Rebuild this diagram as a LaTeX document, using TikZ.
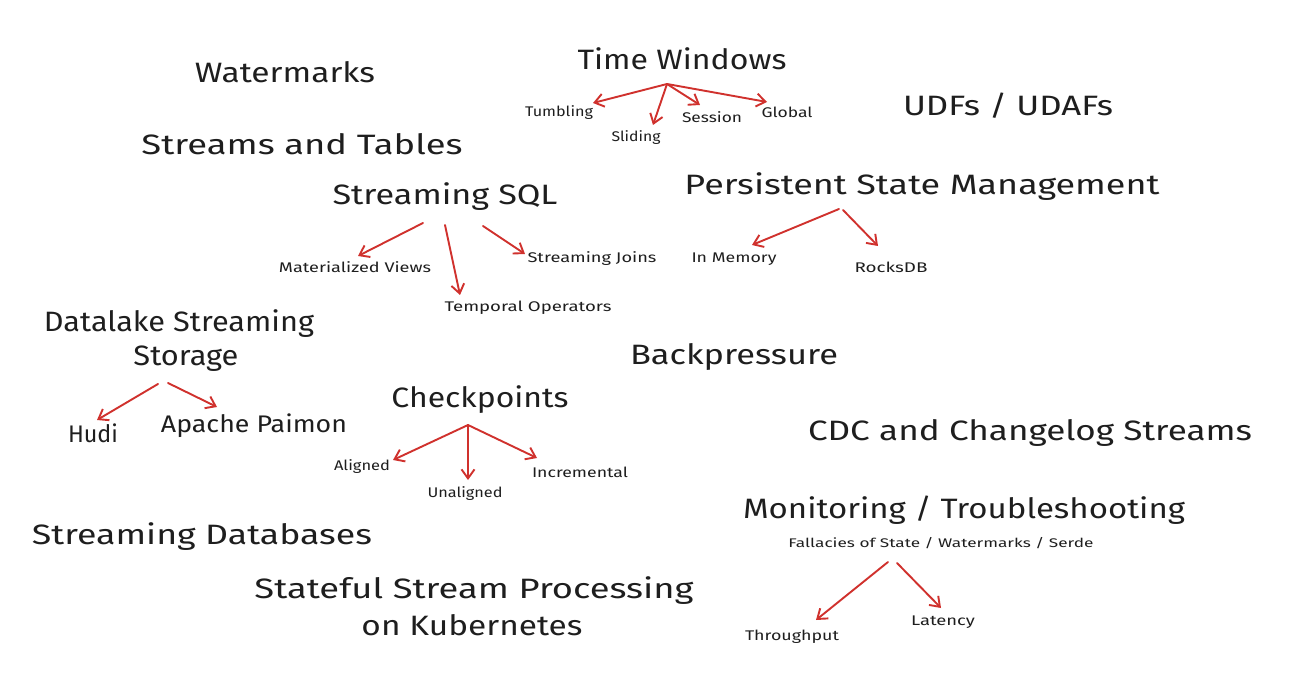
\documentclass[tikz,border=0pt]{standalone}
\usepackage{fontspec}
\setmainfont{Fira Sans}
\usetikzlibrary{arrows.meta}
\definecolor{ink}{HTML}{1E1E1E}
\definecolor{redarr}{HTML}{D0312D}
\newcommand{\fitw}[3]{\resizebox{#1pt}{\height}{\fontsize{#2}{#2}\selectfont #3}}
\begin{document}
\begin{tikzpicture}[x=1pt,y=-1pt,
  lbl/.style={text=ink,inner sep=0pt,anchor=base},
  link/.style={draw=redarr,line width=1.9pt,line cap=round,
    -{Straight Barb[length=9pt,width=13pt,line width=1.9pt]}}]
\useasboundingbox[fill=white] (0,0) rectangle (1314,692);

% titles
\node[lbl] (wm) at (285,83) {\fitw{180}{28}{Watermarks}};
\node[lbl] (tw) at (682,70) {\fitw{209}{28}{Time Windows}};
\node[lbl] (udf) at (1008,116) {\fitw{210}{28}{UDFs / UDAFs}};
\node[lbl] (st) at (302,155) {\fitw{321}{28}{Streams and Tables}};
\node[lbl] (sql) at (445,205) {\fitw{225}{28}{Streaming SQL}};
\node[lbl] (psm) at (922,195) {\fitw{475}{28}{Persistent State Management}};
\node[lbl] (dl1) at (179,332) {\fitw{270}{28}{Datalake Streaming}};
\node[lbl] (dl2) at (186,365) {\fitw{105}{28}{Storage}};
\node[lbl] (bp) at (734,365) {\fitw{208}{28}{Backpressure}};
\node[lbl] (cp) at (480,407) {\fitw{177}{28}{Checkpoints}};
\node[lbl] (hudi) at (93,442) {\fitw{50}{24}{Hudi}};
\node[lbl] (paimon) at (254,432) {\fitw{186}{24}{Apache Paimon}};
\node[lbl] (cdc) at (1030,440) {\fitw{444}{28}{CDC and Changelog Streams}};
\node[lbl] (mon) at (964,518) {\fitw{442}{28}{Monitoring / Troubleshooting}};
\node[lbl] (sdb) at (202,544) {\fitw{340}{28}{Streaming Databases}};
\node[lbl] (ssp1) at (474,598) {\fitw{439}{28}{Stateful Stream Processing}};
\node[lbl] (ssp2) at (472,635) {\fitw{221}{28}{on Kubernetes}};

% small labels
\node[lbl] (tumb) at (559,117) {\fitw{68}{14}{Tumbling}};
\node[lbl] (slid) at (636,142) {\fitw{49}{14}{Sliding}};
\node[lbl] (sess) at (712,123) {\fitw{60}{14}{Session}};
\node[lbl] (glob) at (787,118) {\fitw{51}{14}{Global}};
\node[lbl] (mv) at (355,273) {\fitw{152}{14}{Materialized Views}};
\node[lbl] (sj) at (592,263) {\fitw{129}{14}{Streaming Joins}};
\node[lbl] (to) at (528,312) {\fitw{167}{14}{Temporal Operators}};
\node[lbl] (inm) at (734,263) {\fitw{85}{14}{In Memory}};
\node[lbl] (rdb) at (891,273) {\fitw{73}{14}{RocksDB}};
\node[lbl] (al) at (362,470) {\fitw{56}{14}{Aligned}};
\node[lbl] (unal) at (465,497) {\fitw{75}{14}{Unaligned}};
\node[lbl] (incr) at (580,477) {\fitw{96}{14}{Incremental}};
\node[lbl] (fal) at (941,547) {\fitw{305}{12.5}{Fallacies of State / Watermarks / Serde}};
\node[lbl] (thr) at (792,640) {\fitw{94}{14}{Throughput}};
\node[lbl] (lat) at (943,625) {\fitw{64}{14}{Latency}};

% arrow end points
\coordinate (twS) at (667,84);
\coordinate (tumbT) at (593,103);
\coordinate (slidT) at (653,125);
\coordinate (sessT) at (700,105);
\coordinate (globT) at (767,102);
\draw[link] (twS) -- (tumbT);
\draw[link] (twS) -- (slidT);
\draw[link] (twS) -- (sessT);
\draw[link] (twS) -- (globT);

\coordinate (sqlA) at (423,223); \coordinate (mvT) at (358,256);
\coordinate (sqlB) at (445,225); \coordinate (toT) at (460,295);
\coordinate (sqlC) at (483,226); \coordinate (sjT) at (525,254);
\draw[link] (sqlA) -- (mvT);
\draw[link] (sqlB) -- (toT);
\draw[link] (sqlC) -- (sjT);

\coordinate (psmA) at (839,209); \coordinate (inmT) at (752,245);
\coordinate (psmB) at (843,210); \coordinate (rdbT) at (878,246);
\draw[link] (psmA) -- (inmT);
\draw[link] (psmB) -- (rdbT);

\coordinate (dlA) at (158,384); \coordinate (hudiT) at (97,420);
\coordinate (dlB) at (168,383); \coordinate (paimonT) at (217,407);
\draw[link] (dlA) -- (hudiT);
\draw[link] (dlB) -- (paimonT);

\coordinate (cpS) at (468,425);
\coordinate (alT) at (393,460);
\coordinate (unalT) at (468,480);
\coordinate (incrT) at (537,458);
\draw[link] (cpS) -- (alT);
\draw[link] (cpS) -- (unalT);
\draw[link] (cpS) -- (incrT);

\coordinate (monA) at (888,562); \coordinate (thrT) at (816,620);
\coordinate (monB) at (897,563); \coordinate (latT) at (941,608);
\draw[link] (monA) -- (thrT);
\draw[link] (monB) -- (latT);
\end{tikzpicture}
\end{document}
